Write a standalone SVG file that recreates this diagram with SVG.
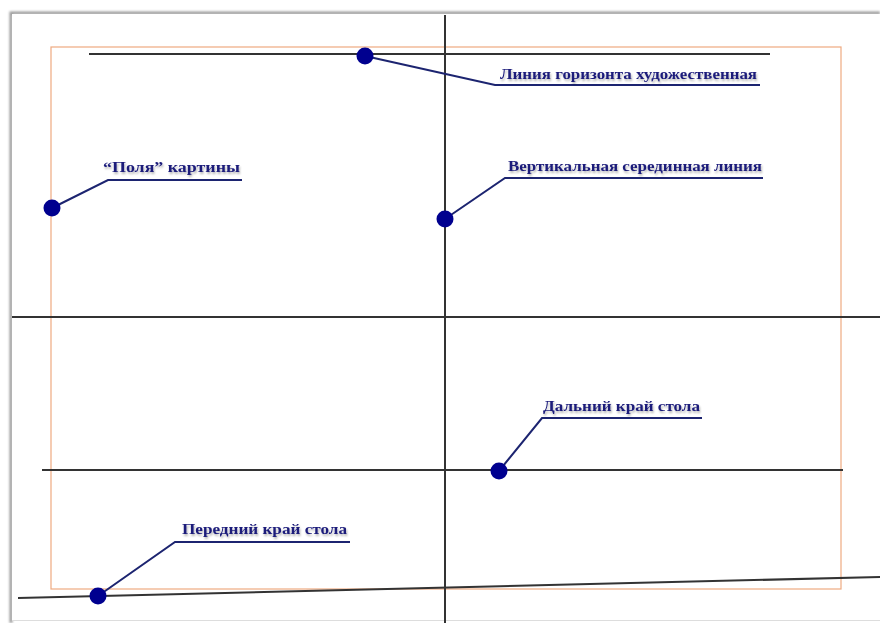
<svg xmlns="http://www.w3.org/2000/svg" width="880" height="623" viewBox="0 0 880 623">
<defs>
<filter id="blur" x="-10%" y="-10%" width="120%" height="120%"><feGaussianBlur stdDeviation="1.2"/></filter>
<filter id="ts" x="-5%" y="-30%" width="110%" height="160%"><feGaussianBlur in="SourceAlpha" stdDeviation="0.8"/><feOffset dx="1" dy="1.5"/><feComponentTransfer><feFuncA type="linear" slope="0.3"/></feComponentTransfer><feMerge><feMergeNode/><feMergeNode in="SourceGraphic"/></feMerge></filter>
</defs>
<style>
.ln{stroke:#333;stroke-width:2;fill:none}
.ld{stroke:#1c2470;stroke-width:2;fill:none}
.dot{fill:#00008f}
.lb{font-family:"Liberation Serif","Times New Roman",serif;font-weight:bold;font-size:15px;fill:#1a1a7a}
</style>
<rect width="880" height="623" fill="#fff"/>
<g id="page">
<path d="M11 623 V13 H880" stroke="#999" stroke-width="3" fill="none" filter="url(#blur)"/>
<rect x="12" y="14" width="870" height="606" fill="#fff"/>
<line x1="12" y1="620.5" x2="880" y2="620.5" stroke="#ddd" stroke-width="1"/>
<rect x="51" y="47" width="790" height="542" fill="none" stroke="#eeaa80" stroke-width="1.2"/>
</g>
<g id="lines">
<line class="ln" x1="89" y1="54" x2="770" y2="54"/>
<line class="ln" x1="445" y1="15" x2="445" y2="623"/>
<line class="ln" x1="12" y1="317" x2="880" y2="317"/>
<line class="ln" x1="42" y1="470" x2="843" y2="470"/>
<line class="ln" x1="18" y1="598" x2="880" y2="577"/>
</g>
<g id="connectors">
<polyline class="ld" points="365,56 495,85 760,85"/>
<polyline class="ld" points="52,208 108,180 242,180"/>
<polyline class="ld" points="445,219 505,178 763,178"/>
<polyline class="ld" points="499,471 542,418 702,418"/>
<polyline class="ld" points="98,596 175,542 350,542"/>
</g>
<g id="n-horizon"><circle class="dot" cx="365" cy="56" r="8.5"/><text class="lb" filter="url(#ts)" x="500" y="79" textLength="257" lengthAdjust="spacingAndGlyphs">Линия горизонта художественная</text></g>
<g id="n-fields"><circle class="dot" cx="52" cy="208" r="8.5"/><text class="lb" filter="url(#ts)" x="103" y="172" textLength="137" lengthAdjust="spacingAndGlyphs">“Поля” картины</text></g>
<g id="n-vertical"><circle class="dot" cx="445" cy="219" r="8.5"/><text class="lb" filter="url(#ts)" x="508" y="171" textLength="254" lengthAdjust="spacingAndGlyphs">Вертикальная серединная линия</text></g>
<g id="n-far"><circle class="dot" cx="499" cy="471" r="8.5"/><text class="lb" filter="url(#ts)" x="543" y="411" textLength="157" lengthAdjust="spacingAndGlyphs">Дальний край стола</text></g>
<g id="n-front"><circle class="dot" cx="98" cy="596" r="8.5"/><text class="lb" filter="url(#ts)" x="182" y="534" textLength="165" lengthAdjust="spacingAndGlyphs">Передний край стола</text></g>
</svg>
